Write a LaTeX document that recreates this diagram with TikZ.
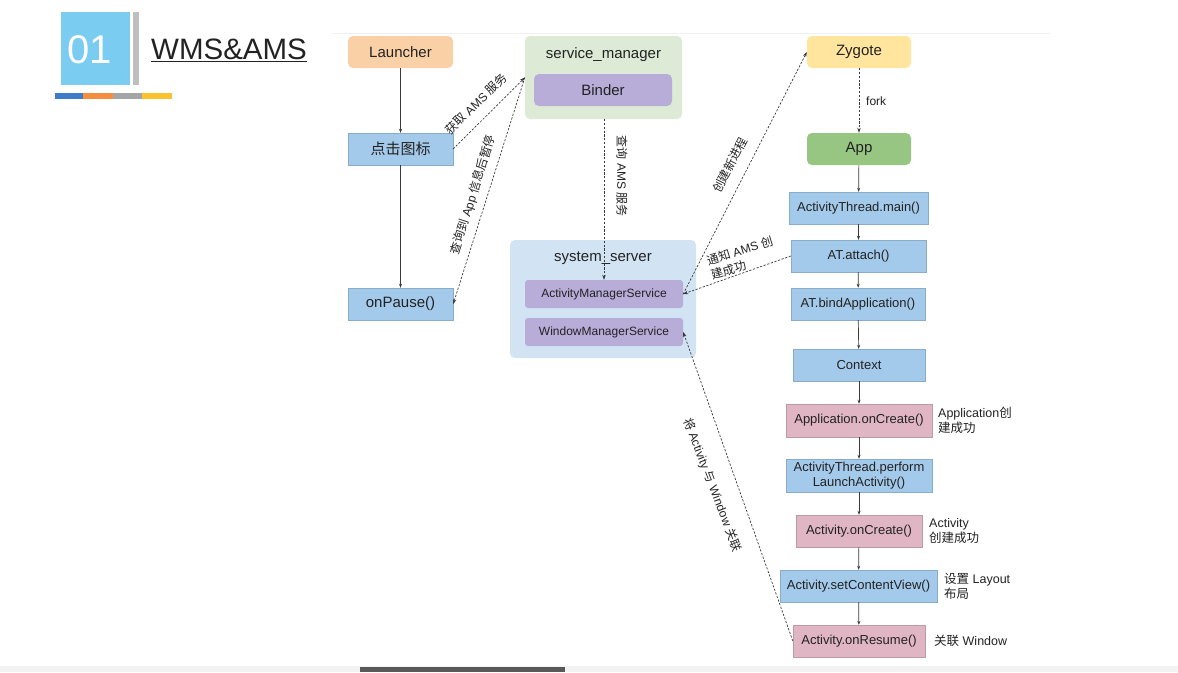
\documentclass[tikz,border=0pt]{standalone}
\usepackage{fontspec}
\setmainfont{Liberation Sans}
\newfontfamily\cjkfont{Noto Sans CJK SC}
\usetikzlibrary{arrows.meta}
\newcommand\zhtxt[1]{{\cjkfont #1}}
\definecolor{txt}{HTML}{222222}
\definecolor{sqblue}{HTML}{7ACCF0}
\definecolor{bargray}{HTML}{BFBFBF}
\definecolor{cbblue}{HTML}{3D7CC9}
\definecolor{cborange}{HTML}{F58D3E}
\definecolor{cbgray}{HTML}{A5A5A5}
\definecolor{cbyellow}{HTML}{F9C22E}
\definecolor{peach}{HTML}{FAD1A6}
\definecolor{lblue}{HTML}{A4CAEB}
\definecolor{pink}{HTML}{E0B5C4}
\definecolor{purp}{HTML}{B8ACD8}
\definecolor{smbg}{HTML}{DCEAD6}
\definecolor{ssbg}{HTML}{D2E4F4}
\definecolor{zyg}{HTML}{FFE59E}
\definecolor{appg}{HTML}{97C683}
\definecolor{lnk}{HTML}{3A3A3A}
\tikzset{
  big/.style={font=\fontsize{15}{18}\selectfont, text=txt},
  med/.style={font=\fontsize{13}{16}\selectfont, text=txt},
  sml/.style={font=\fontsize{12}{15}\selectfont, text=txt},
  boxbase/.style={inner sep=0pt, align=center},
  rbox/.style={boxbase, rounded corners=5pt},
  bluebox/.style={boxbase, fill=lblue, draw=lblue!85!black, line width=0.4pt, med},
  pinkbox/.style={boxbase, fill=pink, draw=pink!85!black, line width=0.4pt, med},
  flow/.style={-{Stealth[length=4pt,width=3pt]}, draw=lnk, line width=0.7pt},
  dashlink/.style={-{Stealth[length=5pt,width=3.5pt]}, draw=lnk, line width=0.7pt, dash pattern=on 2.2pt off 1.6pt},
  lbl/.style={sml, inner sep=0pt, align=left},
}
\begin{document}
\begin{tikzpicture}[x=1pt,y=1pt]
\useasboundingbox (0,0) rectangle (1178,-672);
\fill[white] (0,0) rectangle (1178,-672);
% frame artefacts
\draw[black!6, line width=0.8pt] (332,-33) -- (1050,-33);
\fill[black!5] (0,-666) rectangle (1178,-672);
\fill[black!65] (360,-667) rectangle (565,-672);
% header
\node[fill=sqblue, minimum width=69pt, minimum height=73pt, inner sep=0pt] (sq) at (95.5,-48.5) {};
\node[text=white, font=\fontsize{40}{44}\selectfont, inner sep=0pt] (num) at (90,-50) {01};
\fill[bargray] (133,-12) rectangle (139,-85);
\node[anchor=west, inner sep=0pt, text=txt, font=\fontsize{29.5}{32}\selectfont] (title) at (151,-49) {WMS\&AMS};
\draw[txt, line width=1pt] ([yshift=-2pt]title.south west) -- ([yshift=-2pt]title.south east);
\fill[cbblue] (55,-93) rectangle (83,-99);
\fill[cborange] (83,-93) rectangle (113,-99);
\fill[cbgray] (113,-93) rectangle (142,-99);
\fill[cbyellow] (142,-93) rectangle (172,-99);

% left column
\node[rbox, fill=peach, minimum width=105pt, minimum height=32pt, big] (launcher) at (400.5,-52) {Launcher};
\node[bluebox, minimum width=105pt, minimum height=32pt, big] (click) at (400.5,-149) {\zhtxt{点击图标}};
\node[bluebox, minimum width=105pt, minimum height=32pt, big] (pause) at (400.5,-304) {onPause()};

% service_manager
\node[rbox, fill=smbg, minimum width=157pt, minimum height=83pt] (sm) at (603.5,-77.5) {};
\node[big, inner sep=0pt] (smlabel) at (603.5,-55) {service\_manager};
\node[rbox, fill=purp, minimum width=138pt, minimum height=32pt, big] (binder) at (603,-90) {Binder};

% system_server
\node[rbox, fill=ssbg, minimum width=186pt, minimum height=118pt] (ss) at (603,-299) {};
\node[big, inner sep=0pt] (sslabel) at (603,-258) {system\_server};
\node[rbox, rounded corners=3pt, fill=purp, minimum width=158pt, minimum height=28pt, sml] (ams) at (604,-294) {ActivityManagerService};
\node[rbox, rounded corners=3pt, fill=purp, minimum width=158pt, minimum height=28pt, sml] (wms) at (604,-332) {WindowManagerService};

% right column
\node[rbox, fill=zyg, minimum width=104pt, minimum height=32pt, big] (zygote) at (859,-52) {Zygote};
\node[rbox, fill=appg, minimum width=104pt, minimum height=32pt, big] (app) at (859,-149) {App};
\node[bluebox, minimum width=139pt, minimum height=32pt] (atmain) at (858.5,-208) {ActivityThread.main()};
\node[bluebox, minimum width=135pt, minimum height=32pt] (attach) at (858.5,-256) {AT.attach()};
\node[bluebox, minimum width=134pt, minimum height=32pt] (bind) at (858,-304) {AT.bindApplication()};
\node[bluebox, minimum width=132pt, minimum height=32pt] (context) at (859,-365) {Context};
\node[pinkbox, minimum width=146pt, minimum height=33pt] (appcreate) at (859,-420.5) {Application.onCreate()};
\node[bluebox, minimum width=146pt, minimum height=33pt, font=\fontsize{13}{14.5}\selectfont] (launchact) at (859,-475.5) {ActivityThread.perform\\LaunchActivity()};
\node[pinkbox, minimum width=126pt, minimum height=32pt] (actcreate) at (859,-531) {Activity.onCreate()};
\node[bluebox, minimum width=157pt, minimum height=32pt] (setcv) at (858.5,-586) {Activity.setContentView()};
\node[pinkbox, minimum width=132pt, minimum height=32pt] (resume) at (859,-641) {Activity.onResume()};

% side notes
\node[lbl, anchor=west, font=\fontsize{12.5}{15}\selectfont] (n1) at (938,-420.5) {Application\zhtxt{创}\\\zhtxt{建成功}};
\node[lbl, anchor=west, font=\fontsize{12.5}{15}\selectfont] (n2) at (929,-531) {Activity\\\zhtxt{创建成功}};
\node[lbl, anchor=west, font=\fontsize{12.5}{15}\selectfont] (n3) at (944,-586) {\zhtxt{设置} Layout\\\zhtxt{布局}};
\node[lbl, anchor=west, font=\fontsize{12.5}{15}\selectfont] (n4) at (934,-641) {\zhtxt{关联} Window};

% solid flow arrows
\draw[flow] (launcher) -- (click);
\draw[flow] (click) -- (pause);
\draw[flow] (app) -- (atmain);
\draw[flow] (atmain) -- (attach);
\draw[flow] (attach) -- (bind);
\draw[flow] (bind) -- (context);
\draw[flow] (context) -- (appcreate);
\draw[flow] (appcreate) -- (launchact);
\draw[flow] (launchact) -- (actcreate);
\draw[flow] (actcreate) -- (setcv);
\draw[flow] (setcv) -- (resume);

% dashed links
\draw[dashlink] (click.east) -- (sm.west);
\draw[dashlink] (sm.west) -- (pause.east);
\draw[dashlink] (sm.south -| ams.north) -- (ams.north);
\draw[dashlink] (ams.east) -- (zygote.west);
\draw[dashlink] (attach.west) -- (ams.east);
\draw[dashlink] (zygote) -- (app);
\draw[dashlink] (resume.west) -- (wms.east);

% link labels
\node[lbl, rotate=44] (l1) at (476,-104) {\zhtxt{获取} AMS \zhtxt{服务}};
\node[lbl, rotate=72.6] (l2) at (473,-195) {\zhtxt{查询到} App \zhtxt{信息后暂停}};
\node[lbl, rotate=-90] (l3) at (622,-176) {\zhtxt{查询} AMS \zhtxt{服务}};
\node[lbl, rotate=63] (l4) at (730,-165) {\zhtxt{创建新进程}};
\node[lbl, rotate=17] (l5) at (742,-258) {\zhtxt{通知} AMS \zhtxt{创}\\\zhtxt{建成功}};
\node[lbl, rotate=-69] (l6) at (712,-485) {\zhtxt{将} Activity \zhtxt{与} Window \zhtxt{关联}};
\node[lbl, anchor=west] (l7) at (866,-101) {fork};
\end{tikzpicture}
\end{document}
